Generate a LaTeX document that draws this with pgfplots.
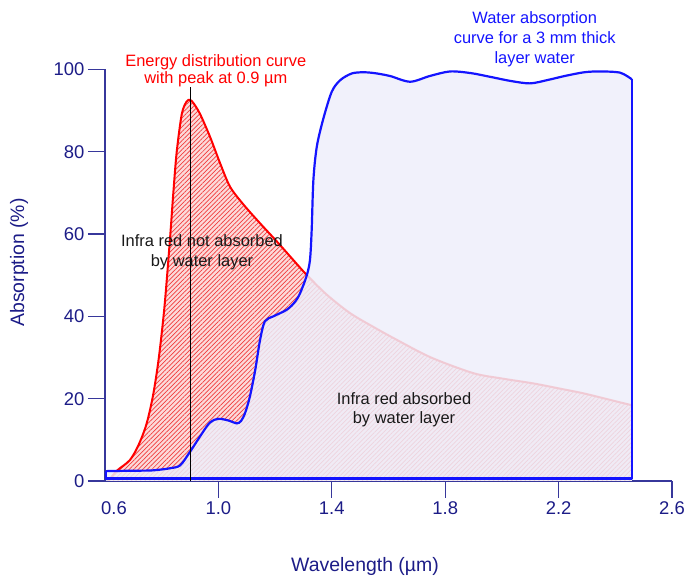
\documentclass[border=0pt]{standalone}
\usepackage{fontspec}
\setmainfont{Liberation Sans}
\usepackage{pgfplots}
\pgfplotsset{compat=1.18}
\usetikzlibrary{patterns.meta}
\definecolor{navy}{RGB}{28,28,135}
\definecolor{axisnavy}{RGB}{55,55,155}
\definecolor{wblue}{RGB}{20,20,255}
\definecolor{lav}{RGB}{238,238,250}
\definecolor{redbg}{RGB}{252,218,218}
\definecolor{hatch}{RGB}{240,60,60}
\definecolor{txt}{RGB}{25,25,25}
\pgfplotstableread{
x y
0.612 0
0.642 2.5
0.688 5.1
0.72 9.0
0.747 14.0
0.77 21
0.79 30
0.81 42.5
0.829 58.6
0.841 70
0.853 80
0.871 89.2
0.888 92.2
0.9 92.6
0.912 91.8
0.935 89.2
0.97 83.7
1.006 77.2
1.041 71.5
1.088 67.2
1.147 62.6
1.206 58.2
1.264 53.7
1.311 50.1
1.38 45.4
1.464 40.8
1.55 37.3
1.629 34.3
1.75 30.0
1.899 26.2
2.0 24.9
2.111 23.7
2.2 22.5
2.287 21.3
2.37 19.9
2.458 18.4
}\energy
\pgfplotstableread{
x y
0.604 2.4
0.65 2.45
0.70 2.5
0.76 2.55
0.80 2.8
0.83 3.1
0.865 3.8
0.9 7.1
0.935 10.8
0.97 14.2
1.0 15.1
1.035 14.7
1.065 14.0
1.08 14.6
1.094 16.5
1.111 20.5
1.13 27
1.147 34.3
1.164 38.8
1.194 40.0
1.241 41.6
1.27 43.5
1.288 45.6
1.311 49.8
1.323 53.7
1.329 61
1.335 73.1
1.347 81.2
1.37 88
1.40 94.6
1.43 97.4
1.47 99.0
1.51 99.3
1.55 99.1
1.605 98.4
1.676 97.0
1.746 98.4
1.817 99.5
1.89 99.1
1.958 98.2
2.03 97.2
2.099 96.6
2.16 97.4
2.222 98.4
2.29 99.3
2.346 99.5
2.417 99.2
2.458 97.6
}\water
\begin{document}
\begin{tikzpicture}[x=1bp,y=1bp]
\useasboundingbox (0,0) rectangle (687,576);
\begin{axis}[
  at={(105bp,95bp)}, anchor=south west,
  scale only axis, width=567bp, height=411.6bp,
  xmin=0.6, xmax=2.6, ymin=0, ymax=100,
  axis lines=left,
  axis line style={-, axisnavy, line width=1.3bp},
  xtick={1.0,1.4,1.8,2.2,2.6},
  ytick={0,20,40,60,80,100},
  extra x ticks={0.6},
  extra x tick style={tick style={draw=none}, xticklabel style={/tikz/xshift=9bp}},
  tick align=outside,
  major tick length=17bp,
  tick style={axisnavy, line width=1.3bp},
  ticklabel style={font=\fontsize{18.5}{20}\selectfont, text=navy},
  /pgf/number format/assume math mode=true,
  xticklabel style={/pgf/number format/fixed, /pgf/number format/fixed zerofill, /pgf/number format/precision=1},
  yticklabel style={/pgf/number format/fixed, /pgf/number format/precision=0},
]
% energy distribution area
\addplot[draw=none, fill=redbg, smooth, tension=0.5] table[x=x,y=y]{\energy} \closedcycle;
\addplot[draw=none, pattern={Lines[angle=45,distance=3.2bp,line width=0.7bp]}, pattern color=hatch, smooth, tension=0.5] table[x=x,y=y]{\energy} \closedcycle;
\addplot[red, line width=2bp, smooth, tension=0.5] table[x=x,y=y]{\energy};
% water absorption area
\addplot[draw=none, fill=lav, fill opacity=0.85, smooth, tension=0.5] table[x=x,y=y]{\water} \closedcycle;
\addplot[wblue, line width=2.2bp, smooth, tension=0.5] table[x=x,y=y]{\water};
\addplot[wblue, line width=2.2bp, sharp plot, line join=round] coordinates {
(0.604,2.4) (0.604,0.6) (2.458,0.6) (2.458,97.6)
};
% peak marker line
\addplot[black, line width=1.1bp] coordinates {(0.9,0) (0.9,95.8)};
\end{axis}
% axis titles
\node[rotate=90, anchor=center, text=navy, font=\fontsize{19.5}{22}\selectfont] at (19,313.5) {Absorption (\%)};
\node[anchor=base, text=navy, font=\fontsize{19.5}{22}\selectfont] at (365,4.3) {Wavelength (µm)};
% annotations
\begin{scope}[every node/.style={anchor=base, font=\fontsize{16.5}{18}\selectfont, inner sep=0pt}]
\node[text=red] at (215.8,509.3) {Energy distribution curve};
\node[text=red] at (215.8,492.7) {with peak at 0.9 µm};
\node[text=wblue] at (534.7,552.7) {Water absorption};
\node[text=wblue] at (534.7,532.2) {curve for a 3 mm thick};
\node[text=wblue] at (534.7,512.7) {layer water};
\node[text=txt] at (202,329.3) {Infra red not absorbed};
\node[text=txt] at (202,309.3) {by water layer};
\node[text=txt] at (404,171) {Infra red absorbed};
\node[text=txt] at (404,152.5) {by water layer};
\end{scope}
\end{tikzpicture}
\end{document}
